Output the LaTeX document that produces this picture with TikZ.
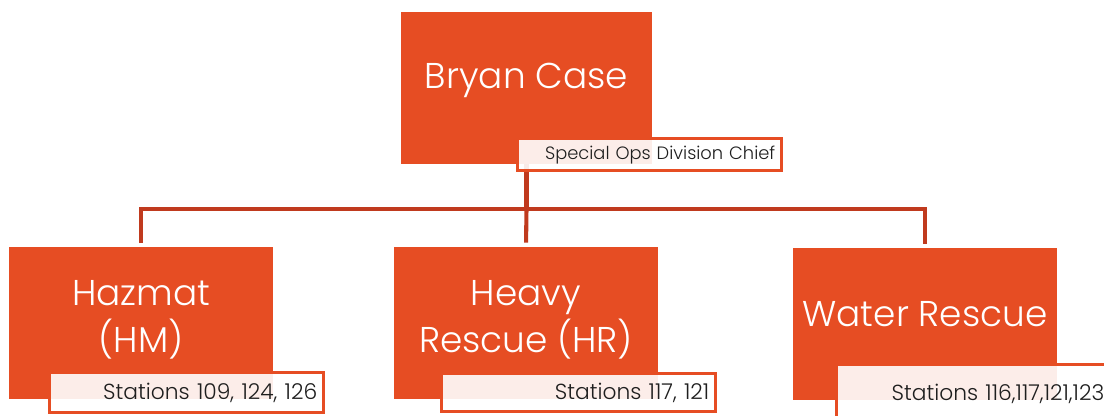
\documentclass[tikz,border=0pt]{standalone}
\usepackage{fontspec}
\setmainfont{Poppins}[UprightFont=* Light]
\usetikzlibrary{calc, backgrounds}

\definecolor{opsorange}{RGB}{230,77,35}
\definecolor{opsline}{RGB}{192,58,30}
\definecolor{opstext}{RGB}{30,30,30}

\begin{document}
\begin{tikzpicture}[
			x=0.025cm, y=-0.025cm,
			unit/.style={rectangle, fill=opsorange, minimum width=6.6cm, minimum height=3.8cm, inner sep=0pt},
			unittext/.style={align=center, text=white, font=\fontsize{25.5}{33.5}\selectfont, inner sep=0pt},
			tag/.style={rectangle, draw=opsorange, line width=2.2pt, fill=white, fill opacity=0.9, text opacity=1, text=opstext, text width=6.55cm, inner xsep=0.15cm, inner ysep=0pt, minimum height=0.95cm, align=right, font=\fontsize{15.5}{18}\selectfont, anchor=south west},
			link/.style={draw=opsline, line width=2.9pt, shorten >=0.1cm}
			]
			\useasboundingbox (0,0) rectangle (1104,415);
			\clip (0,0) rectangle (1104,415);
			
			% Boxes
			\node (boss) [unit, minimum width=6.275cm] at (526.5,88) {};
			\node (hm) [unit] at (141,323) {};
			\node (hr) [unit] at (526,323) {};
			\node (wr) [unit] at (925,324) {};
			
			% Box texts
			\node (bosstext) [unittext] at ($(boss.center)+(0,-8)$) {Bryan Case};
			\node (hmtext) [unittext] at ($(hm.center)+(0,-3)$) {Hazmat\\(HM)};
			\node (hrtext) [unittext] at ($(hr.center)+(0,-3)$) {Heavy\\Rescue (HR)};
			\node (wrtext) [unittext] at ($(wr.center)+(0,-10)$) {Water Rescue};
			
			% Tags
			\node (bosstag) [tag, text width=6.3cm, minimum height=0.8cm, font=\fontsize{12.7}{15}\selectfont] at ($(boss.south west)+(115,8)$) {Special Ops Division Chief};
			\node (hmtag) [tag, minimum height=1cm] at ($(hm.south west)+(39,15)$) {Stations 109, 124, 126};
			\node (hrtag) [tag] at ($(hr.south west)+(46,14)$) {Stations 117, 121};
			\node (wrtag) [tag, anchor=north west, minimum height=1.45cm] at ($(wr.south west)+(42,-37)$) {Stations 116,117,121,123};
			
			% Links
			\begin{scope}[on background layer]
				\coordinate (bus) at ($(boss.south)+(0,44.5)$);
				\draw [link] (boss.south) -- (bus) -| (hm.north);
				\draw [link] (bus) -- (hr.north);
				\draw [link] (bus) -| (wr.north);
			\end{scope}
		\end{tikzpicture}
\end{document}
